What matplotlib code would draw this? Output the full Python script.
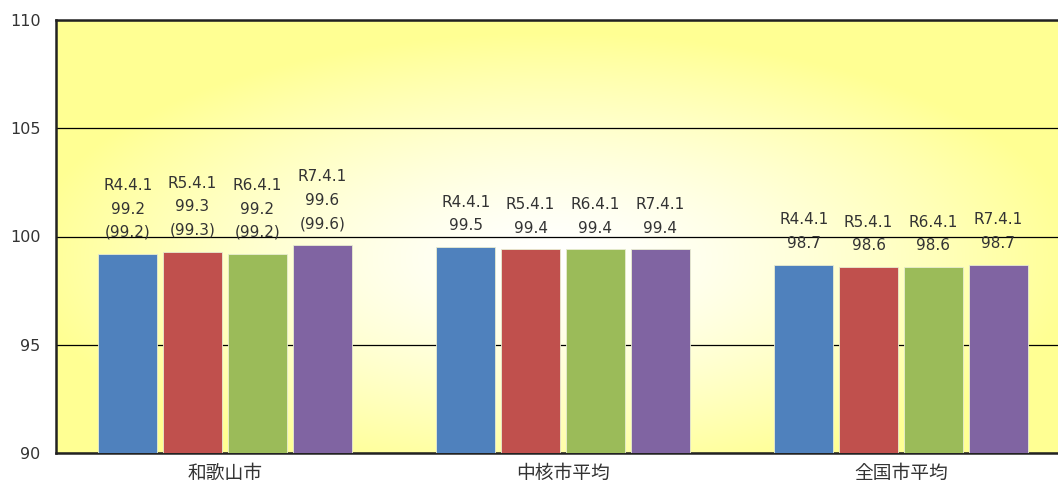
import numpy as np
import matplotlib.pyplot as plt

plt.rcParams['font.family'] = ['Noto Sans CJK JP', 'DejaVu Sans']

categories = ['和歌山市', '中核市平均', '全国市平均']
dates = ['R4.4.1', 'R5.4.1', 'R6.4.1', 'R7.4.1']
values = [
    [99.2, 99.3, 99.2, 99.6],   # 和歌山市
    [99.5, 99.4, 99.4, 99.4],   # 中核市平均
    [98.7, 98.6, 98.6, 98.7],   # 全国市平均
]
# bracketed values shown only for 和歌山市
paren = [[99.2, 99.3, 99.2, 99.6], None, None]
colors = ['#4F81BD', '#C0504D', '#9BBB59', '#8064A2']
yticks = [90, 95, 100, 105, 110]

W, H = 1058, 487
fig = plt.figure(figsize=(W / 100, H / 100), dpi=100)
# axes runs past the right edge of the picture, like the original
ax = fig.add_axes([56 / W, 34 / H, 1014 / W, 433 / H])

# radial yellow -> white gradient background
gx, gy = np.meshgrid(np.linspace(0, 1, 400), np.linspace(0, 1, 300))
r = np.sqrt(((gx - 0.49) / 0.52) ** 2 + ((gy - 0.45) / 0.52) ** 2)
t = np.clip(r, 0, 1) ** 1.4
img = np.ones(gx.shape + (3,))
img[..., 2] = 1.0 - t * (1.0 - 0.58)
ax.imshow(img, extent=[0, 1, 0, 1], transform=ax.transAxes, aspect='auto',
          origin='lower', zorder=0)

x = np.arange(len(categories))
bw = 0.176
step = 0.192
for i, d in enumerate(dates):
    xs = x + (i - 1.5) * step
    vals = [v[i] for v in values]
    ax.bar(xs, vals, width=bw, bottom=0, color=colors[i],
           edgecolor='#e8ecd0', linewidth=0.6, zorder=3)
    for j, (xx, v) in enumerate(zip(xs, vals)):
        lines = [d, f'{v:.1f}']
        if paren[j] is not None:
            lines.append(f'({paren[j][i]:.1f})')
        ax.annotate('\n'.join(lines), (xx, v), xytext=(0, 10),
                    textcoords='offset points', ha='center', va='bottom',
                    fontsize=11, color='#333333', linespacing=1.7,
                    family=['DejaVu Sans'], zorder=4)

ax.set_xlim(-0.5, len(categories) - 0.5)
ax.set_ylim(90, 110)
ax.set_yticks(yticks)
ax.set_yticklabels([str(v) for v in yticks], fontsize=11.5, color='#333333',
                   family=['DejaVu Sans'])
ax.set_xticks(x)
ax.set_xticklabels(categories, fontsize=13.5, color='#333333')
ax.tick_params(axis='y', length=0, pad=11)
ax.tick_params(axis='x', length=0, pad=7)
ax.yaxis.grid(True, color='black', linewidth=0.9, zorder=1)
ax.set_axisbelow(True)
for s in ['left', 'top', 'bottom']:
    ax.spines[s].set_linewidth(1.8)
    ax.spines[s].set_color('#222222')
ax.spines['right'].set_visible(False)

fig.savefig('out.png', dpi=100)
